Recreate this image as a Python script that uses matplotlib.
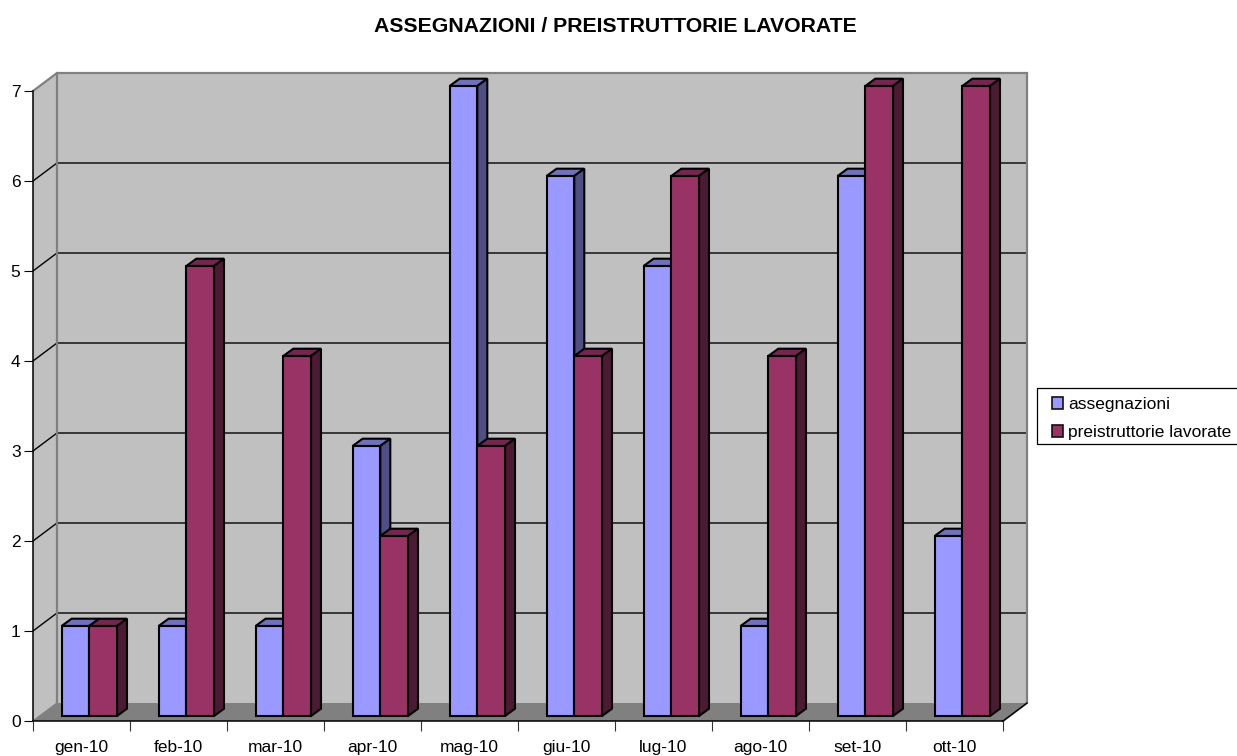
import matplotlib
matplotlib.use('Agg')
import matplotlib.pyplot as plt
from matplotlib.patches import Patch, Polygon, Rectangle

plt.rcParams['font.family'] = ['Liberation Sans', 'DejaVu Sans']

months = ['gen-10', 'feb-10', 'mar-10', 'apr-10', 'mag-10', 'giu-10', 'lug-10', 'ago-10', 'set-10', 'ott-10']
assegnazioni = [1, 1, 1, 3, 7, 6, 5, 1, 6, 2]
preistruttorie = [1, 5, 4, 2, 3, 4, 6, 4, 7, 7]
y_ticks = list(range(8))

W, H = 1237, 756
# front plane of the box in pixels
X0, X1, Y0, Y1 = 33, 1003, 721, 91
px_x = 10 / (X1 - X0)  # one pixel in data units
px_y = 7 / (Y0 - Y1)

# depth of the box and of the bars
WALL_DX, WALL_DY = 24 * px_x, 18 * px_y
BAR_DX, BAR_DY = 10 * px_x, 7.3 * px_y
BAR_X0, BAR_Y0 = 28.6 * px_x, 5 * px_y
BAR_W = 27.7 * px_x

BLUE = ('#9999ff', '#7070bb', '#4f4f85')
RED = ('#993366', '#732650', '#4d1a33')

fig = plt.figure(figsize=(W / 100, H / 100), dpi=100)
ax = fig.add_axes([X0 / W, 1 - Y0 / H, (X1 - X0) / W, (Y0 - Y1) / H])
ax.patch.set_visible(False)
ax.set_xlim(0, 10)
ax.set_ylim(0, 7)


def poly(points, face, edge='none', lw=0.0, z=1):
    ax.add_patch(Polygon(points, closed=True, facecolor=face, edgecolor=edge, linewidth=lw,
                         clip_on=False, zorder=z, joinstyle='miter'))


# walls and floor
wall_top = 7 + WALL_DY
poly([(0, 0), (WALL_DX, WALL_DY), (WALL_DX, wall_top), (0, 7)], '#c0c0c0')
poly([(WALL_DX, WALL_DY), (10 + WALL_DX, WALL_DY), (10 + WALL_DX, wall_top), (WALL_DX, wall_top)], '#c0c0c0')
poly([(0, 0), (10, 0), (10 + WALL_DX, WALL_DY), (WALL_DX, WALL_DY)], '#808080')

# gridlines on the back and side walls
for v in y_ticks[1:-1]:
    ax.plot([0, WALL_DX, 10 + WALL_DX], [v, v + WALL_DY, v + WALL_DY], color='black', lw=1.0,
            clip_on=False, zorder=2)

# wall borders
ax.plot([0, WALL_DX, 10 + WALL_DX, 10 + WALL_DX, 10], [7, wall_top, wall_top, WALL_DY, 0],
        color='#808080', lw=1.6, clip_on=False, zorder=2, solid_joinstyle='miter')
ax.plot([WALL_DX, WALL_DX], [WALL_DY, wall_top], color='#808080', lw=1.6, clip_on=False, zorder=2)
ax.plot([0, WALL_DX], [0, WALL_DY], color='#808080', lw=1.0, clip_on=False, zorder=2)
ax.plot([10, 10 + WALL_DX], [0, WALL_DY], color='black', lw=1.0, clip_on=False, zorder=2)


def bar3d(x, v, colors, z):
    x2 = x + BAR_W
    b, t = BAR_Y0, BAR_Y0 + v
    front, top, side = colors
    poly([(x, t), (x + BAR_DX, t + BAR_DY), (x2 + BAR_DX, t + BAR_DY), (x2, t)], top, 'black', 1.5, z)
    poly([(x2, b), (x2 + BAR_DX, b + BAR_DY), (x2 + BAR_DX, t + BAR_DY), (x2, t)], side, 'black', 1.5, z)
    poly([(x, b), (x2, b), (x2, t), (x, t)], front, 'black', 1.5, z)


for i, (a, p) in enumerate(zip(assegnazioni, preistruttorie)):
    left = i + BAR_X0
    bar3d(left, a, BLUE, 3 + i * 0.1)
    bar3d(left + BAR_W, p, RED, 3 + i * 0.1 + 0.05)

# axes
for s in ['top', 'right']:
    ax.spines[s].set_visible(False)
for s in ['left', 'bottom']:
    ax.spines[s].set_linewidth(1.1)
    ax.spines[s].set_color('black')
    ax.spines[s].set_zorder(2.5)
ax.set_yticks(y_ticks)
ax.set_xticks(range(11))
ax.set_xticklabels([])
ax.set_xticks([i + 0.5 for i in range(10)], minor=True)
ax.set_xticklabels(months, minor=True)
ax.tick_params(axis='x', which='major', length=7.2, width=0.8, color='#333333')
ax.tick_params(axis='x', which='minor', length=0, labelsize=12.5, pad=13.5)
ax.tick_params(axis='y', length=6.5, width=0.8, labelsize=12.5, pad=2.5)

fig.text(615 / W, 1 - 26 / H, 'ASSEGNAZIONI / PREISTRUTTORIE LAVORATE', ha='center', va='center',
         fontsize=15.3, fontweight='bold')

# legend box runs off the right edge of the picture
fig.add_artist(Rectangle((1037 / W, 1 - 444 / H), 220 / W, 56 / H, transform=fig.transFigure,
                         facecolor='white', edgecolor='black', linewidth=0.9, zorder=4))
handles = [Patch(facecolor=BLUE[0], edgecolor='#111111', linewidth=1.2, label='assegnazioni'),
           Patch(facecolor=RED[0], edgecolor='#111111', linewidth=1.2, label='preistruttorie lavorate')]
leg = fig.legend(handles=handles, loc='upper left', bbox_to_anchor=(1052 / W, 1 - 397 / H), borderaxespad=0,
                 fontsize=12.5, frameon=False, handlelength=0.63, handleheight=0.7, handletextpad=0.3,
                 labelspacing=0.72, borderpad=0)
leg.set_zorder(5)

fig.savefig('out.png', dpi=100)
